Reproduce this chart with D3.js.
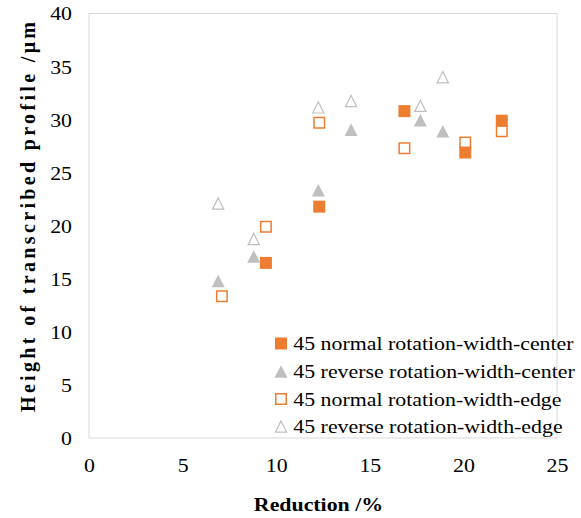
<!DOCTYPE html>
<html>
<head>
<meta charset="utf-8">
<script src="https://cdn.jsdelivr.net/npm/d3@7/dist/d3.min.js"></script>
<style>
  html, body { margin: 0; padding: 0; background: #fff; }
  svg text { font-family: "Liberation Serif", "Times New Roman", serif; fill: #000; }
</style>
</head>
<body>
<svg id="chart" width="581" height="518"></svg>
<script>
// Reduction (%) vs. height of transcribed profile (µm), four measurement series
const normalCenterX = [9.45, 16.85, 20.1, 22.05, 12.3];
const normalCenterY = [16.5, 30.8, 26.9, 29.9, 21.8];

const reverseCenterX = [6.9, 8.8, 12.25, 14.0, 17.7, 18.9];
const reverseCenterY = [14.8, 17.1, 23.35, 29.05, 29.95, 28.9];

const normalEdgeX = [7.1, 9.45, 12.3, 16.85, 20.1, 22.05];
const normalEdgeY = [13.35, 19.9, 29.7, 27.3, 27.85, 28.9];

const reverseEdgeX = [6.9, 8.8, 12.25, 14.0, 17.7, 18.9];
const reverseEdgeY = [22.1, 18.75, 31.15, 31.75, 31.3, 34.0];

const seriesNames = [
  "45 normal rotation-width-center",
  "45 reverse rotation-width-center",
  "45 normal rotation-width-edge",
  "45 reverse rotation-width-edge"
];

const xTicks = [0, 5, 10, 15, 20, 25];
const yTicks = [0, 5, 10, 15, 20, 25, 30, 35, 40];

const ORANGE = "#ED7D31";
const GRAY = "#BFBFBF";
const FONT = 19;
const STRETCH = 1.15; // horizontal widening of the serif text

const svg = d3.select("#chart");

const x = d3.scaleLinear().domain([0, 25]).range([89, 557]);
const y = d3.scaleLinear().domain([0, 40]).range([438, 13.5]);

// plot frame
svg.append("rect")
  .attr("x", x(0)).attr("y", y(40))
  .attr("width", x(25) - x(0)).attr("height", y(0) - y(40))
  .attr("fill", "none").attr("stroke", "#d9d9d9").attr("stroke-width", 1);

// widen a text element horizontally about its anchor point
function widen(sel, ax, ay) {
  sel.attr("transform", function () {
    const base = d3.select(this).attr("transform") || "";
    return `${base} translate(${ax},${ay}) scale(${STRETCH},1) translate(${-ax},${-ay})`;
  });
}

// y axis labels
const yAxis = d3.axisLeft(y).tickValues(yTicks).tickSize(0).tickPadding(0);
const gy = svg.append("g").attr("transform", "translate(72,0)").call(yAxis);
gy.select(".domain").remove();
gy.selectAll("text")
  .attr("font-size", FONT).attr("font-family", "Liberation Serif").attr("fill", "#000")
  .attr("dy", "0.34em")
  .attr("transform", `scale(${STRETCH},1)`)
  .attr("x", 0);

// x axis labels
const xAxis = d3.axisBottom(x).tickValues(xTicks).tickSize(0).tickPadding(0);
const gx = svg.append("g").attr("transform", "translate(0,471.5)").call(xAxis);
gx.select(".domain").remove();
gx.selectAll("text")
  .attr("font-size", FONT).attr("font-family", "Liberation Serif").attr("fill", "#000")
  .attr("dy", 0)
  .attr("transform", `scale(${STRETCH},1)`);

// axis titles
svg.append("text")
  .attr("x", 318.5).attr("y", 511.5)
  .attr("text-anchor", "middle").attr("font-size", FONT).attr("font-weight", "bold")
  .text("Reduction /%")
  .call(widen, 318.5, 511.5);

svg.append("text")
  .attr("transform", "translate(35,217) rotate(-90)")
  .attr("text-anchor", "middle").attr("font-size", 20).attr("font-weight", "bold")
  .attr("textLength", 390).attr("lengthAdjust", "spacing")
  .text("Height of transcribed  profile /μm");

// marker symbols: squares from d3, triangles with explicit width/height
function trianglePath(w, h) {
  const p = d3.path();
  p.moveTo(0, -h / 2);
  p.lineTo(w / 2, h / 2);
  p.lineTo(-w / 2, h / 2);
  p.closePath();
  return p.toString();
}
const squareFilled = d3.symbol().type(d3.symbolSquare).size(144)();
const squareOpen = d3.symbol().type(d3.symbolSquare).size(110)();
const triFilled = trianglePath(13, 12.5);
const triOpen = trianglePath(11.2, 11.2);

function styleMarker(sel, kind) {
  if (kind === "sqFill") {
    sel.attr("d", squareFilled).attr("fill", ORANGE);
  } else if (kind === "sqOpen") {
    sel.attr("d", squareOpen).attr("fill", "#fff").attr("stroke", ORANGE).attr("stroke-width", 1.5);
  } else if (kind === "triFill") {
    sel.attr("d", triFilled).attr("fill", GRAY);
  } else {
    sel.attr("d", triOpen).attr("fill", "#fff").attr("stroke", GRAY).attr("stroke-width", 1.2);
  }
}

function drawSeries(xs, ys, kind) {
  const data = xs.map((v, i) => [v, ys[i]]);
  svg.append("g").selectAll("path").data(data).join("path")
    .attr("transform", d => `translate(${x(d[0])},${y(d[1])})`)
    .call(styleMarker, kind);
}

const kinds = ["sqFill", "triFill", "sqOpen", "triOpen"];
drawSeries(reverseEdgeX, reverseEdgeY, "triOpen");
drawSeries(normalEdgeX, normalEdgeY, "sqOpen");
drawSeries(reverseCenterX, reverseCenterY, "triFill");
drawSeries(normalCenterX, normalCenterY, "sqFill");

// legend
const legend = svg.append("g");
const legendY = [343.5, 371.5, 399, 426.5];
seriesNames.forEach((name, i) => {
  const row = legend.append("g").attr("transform", `translate(0,${legendY[i]})`);
  row.append("path").attr("transform", "translate(281,0)").call(styleMarker, kinds[i]);
  row.append("text").attr("x", 293.3).attr("y", 0).attr("dy", "0.35em")
    .attr("font-size", FONT).text(name)
    .call(widen, 293.3, 0);
});
</script>
</body>
</html>
